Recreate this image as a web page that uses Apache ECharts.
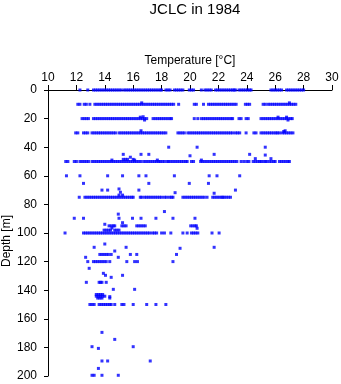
<!DOCTYPE html>
<html>
<head>
<meta charset="utf-8">
<script src="https://cdn.jsdelivr.net/npm/echarts@6/dist/echarts.min.js"></script>
<style>html,body{margin:0;padding:0;background:#fff}#c{width:341px;height:384px}</style>
</head>
<body>
<div id="c"></div>
<script>
// Temperature ticks and depth ticks
const tempTicks = [10,12,14,16,18,20,22,24,26,28,30];
const depthTicks = [0,20,40,60,80,100,120,140,160,180,200];

// Standard depth levels (m) with temperatures (°C) read at each level
const t0 = [12.25,12.8,13.2,13.35,13.5,13.65,13.8,13.95,14.1,14.25,14.4,14.55,14.7,14.85,15.0,15.15,
  15.35,15.5,15.65,15.8,15.95,16.1,16.25,16.4,16.55,16.7,16.85,17.0,17.15,17.3,17.45,17.6,17.75,17.9,18.0,
  18.3,18.45,18.6,18.9,19.05,19.2,19.35,19.5,19.95,20.1,20.25,20.8,21.05,21.2,21.35,21.5,
  21.8,21.95,22.1,22.25,22.4,22.55,22.7,22.85,23.0,23.1,23.2,23.45,23.6,23.75,23.9,24.05,24.2,24.3,
  25.7,25.85,26.0,26.15,26.3,26.45,26.8,26.95,27.1,27.25,27.4,27.55,27.7,27.85,28.0];
const t10 = [12.1,12.25,12.55,12.7,12.95,13.3,13.45,13.6,13.75,13.9,14.05,14.2,14.35,14.5,14.65,14.8,14.95,
  15.1,15.25,15.4,15.55,15.7,15.85,16.0,16.15,16.3,16.45,16.6,16.75,16.9,17.05,17.2,17.35,17.5,17.65,17.8,
  17.95,18.1,18.25,18.4,18.55,18.7,18.85,19.2,20.3,20.45,20.95,21.3,21.45,21.6,21.75,21.9,22.05,22.2,22.35,
  22.5,22.65,22.8,22.95,23.1,23.25,23.9,24.05,24.2,25.15,25.3,25.5,25.65,25.8,25.95,26.1,26.25,26.4,26.55,
  26.7,26.85,27.0,27.15,27.3,27.45];
const t20 = [12.4,12.55,12.7,12.85,13.2,13.35,13.5,13.65,13.8,13.95,14.1,14.25,14.4,14.55,14.7,14.85,15.0,
  15.15,15.3,15.45,15.6,15.75,15.9,16.05,16.2,16.35,16.5,16.65,16.8,16.95,17.4,17.55,17.7,17.85,18.0,18.15,
  18.3,18.45,18.6,18.7,20.3,20.55,20.8,20.95,21.1,21.25,21.4,21.55,21.7,21.85,22.0,22.15,22.3,22.45,22.6,
  22.75,22.9,23.0,23.45,23.6,23.95,24.1,25.0,25.15,25.3,25.45,25.6,25.75,25.9,26.05,26.2,26.35,26.5,26.65,
  26.8,26.95,27.1,27.2];
const t30 = [11.95,12.1,12.5,12.65,12.8,13.1,13.25,13.4,13.55,13.7,13.85,14.0,14.15,14.3,14.45,14.6,14.75,
  15.0,15.15,15.3,15.45,15.6,15.75,15.9,16.05,16.2,16.35,16.5,16.65,16.8,16.95,17.1,17.25,17.4,17.55,17.7,
  17.85,18.0,18.15,18.3,19.15,19.3,19.45,19.6,19.85,20.0,20.15,20.3,20.45,20.6,20.75,20.9,21.05,21.2,21.35,
  21.5,21.65,21.8,21.95,22.1,22.25,22.4,22.55,22.7,22.85,23.0,23.2,23.35,23.5,23.95,24.5,24.65,25.0,25.15,
  25.3,25.45,25.6,25.75,25.9,26.05,26.15,26.3,26.5,26.65,26.8,26.95,27.1,27.25];
const t50 = [11.25,11.4,11.85,12.0,12.25,12.4,12.55,12.7,12.85,13.1,13.25,13.4,13.55,13.7,13.85,14.0,14.15,
  14.3,14.45,14.6,14.75,14.9,15.05,15.2,15.35,15.5,15.65,15.8,15.95,16.1,16.25,16.4,16.55,16.75,16.9,17.05,
  17.2,17.35,17.5,17.65,17.8,17.9,18.05,18.2,18.4,18.5,18.65,18.8,18.95,19.1,19.25,19.4,19.55,19.7,19.8,
  20.1,20.25,20.75,20.9,21.05,21.2,21.35,21.5,21.65,21.8,21.95,22.1,22.25,22.4,22.55,22.7,22.85,23.0,
  23.15,23.3,23.6,23.8,24.0,24.15,24.45,24.6,24.75,24.9,25.0,25.15,25.3,25.4,25.6,25.75,25.9,26.0,
  26.3,26.45,26.6,26.75,26.9,27.0];
const t75 = [12.2,12.6,12.75,12.9,13.05,13.2,13.35,13.5,13.65,13.8,13.95,14.1,14.25,14.4,14.55,14.7,14.85,
  15.0,15.15,15.3,15.45,15.6,15.75,15.9,16.0,16.5,16.6,16.8,16.95,17.1,17.25,17.4,17.55,17.7,17.85,18.0,
  18.2,18.35,18.55,18.7,18.8,19.5,19.65,19.8,19.95,20.1,20.25,20.4,20.55,20.7,20.85,21.0,21.2,
  21.6,21.75,21.9,22.05,22.2,22.3,22.4,22.55,22.7,22.85];
const t100 = [11.2,12.5,12.65,12.8,12.95,13.1,13.25,13.4,13.55,13.7,13.85,14.0,14.15,14.3,14.45,14.6,14.75,
  14.9,15.05,15.2,15.35,15.5,15.65,15.8,15.95,16.1,16.25,16.4,16.55,16.7,16.85,17.0,17.15,17.35,17.5,17.65,
  18.0,18.2,18.65,19.5,19.8,20.1,20.25,20.4,20.55,21.55,22.05];
const t150 = [12.95,13.1,13.25,13.6,13.75,13.9,14.05,14.2,14.35,14.45,14.7,15.2,15.35,16.0,16.95,17.6,18.3];

// Other observations as [temperature, depth]
const upperObs = [[16.6,9],[27.0,9],[16.5,19],[16.7,18.7],[16.8,21],[26.2,19],[26.8,19],[26.9,21],
  [16.55,28.5],[26.7,28.5],[26.6,29],[18.5,40],[20.5,40],[25.3,40],
  [15.3,45],[15.8,47],[16.55,45],[17.1,45],[20.0,46],[21.7,45],[24.2,45],[25.3,45.5],
  [14.5,49],[15.3,48.5],[15.45,48.5],[15.6,48.5],[16.0,48.5],[16.1,49],[17.7,49],[20.8,49],[24.6,48],[25.7,48]];
const midObs = [[11.3,60],[12.25,60],[14.2,60],[15.25,60],[16.4,60],[16.9,60],[18.9,60],[21.35,60],[21.9,60],[23.5,60],
  [12.5,65.3],[17.1,65.3],[19.95,65.3],[21.3,65.3],
  [13.8,70],[14.2,70],[15.0,69.2],[15.1,71.5],[16.4,70],[18.95,71.8],[23.2,70],[21.7,72.2],
  [15.0,73.5],[15.25,73.5],[18.2,85],[14.95,86.8],
  [11.85,89.7],[12.5,89.7],[15.0,89.7],[15.95,89.7],[16.55,89.7],[17.6,89.7],[18.8,89.7],[20.35,89.7],
  [14.0,93.9],[15.25,92.8],
  [14.3,95],[14.45,95],[14.6,95],[14.7,95],[15.2,95],[15.35,95],[15.5,95],[16.25,95],[16.4,95],[16.55,95],
  [16.7,95],[16.85,95],[20.05,95],[20.2,95],[20.35,95],[20.45,95],[20.5,96.7],[14.5,96.5],
  [13.95,98],[14.1,98],[14.25,98],[14.4,98],[14.7,98],[14.85,98],[15.0,98]];
const lowerObs = [[14.0,107.7],[19.3,110.7],[13.25,110],[15.5,110],[21.7,110],[14.7,112.6],
  [13.65,115],[13.8,115],[13.95,115],[14.1,115],[14.25,115],[14.45,115],[15.8,115],[16.25,115],[19.05,115],
  [12.65,117],[14.95,117],
  [12.8,120],[13.2,120],[13.35,120],[13.5,120],[13.65,120],[13.8,120],[13.95,120],[14.1,120],[14.35,120],
  [15.55,120],[16.1,120],[16.3,120],[18.8,120],
  [12.9,124.7],[13.9,128.2],[14.05,129.6],[15.25,129.6],[14.45,131],
  [12.7,134.5],[13.6,134.5],[13.7,134.5],[13.8,134.5],[14.1,134.5],[14.6,139.4],[16.1,139.4],
  [13.4,143],[13.55,143],[13.7,143],[13.85,143],
  [13.4,144.2],[13.55,144.2],[13.7,144.2],[13.85,144.2],[14.0,144.2],[14.35,144.5],
  [13.5,145.5],[13.65,145.5],[13.8,145.5],[14.35,145.5]];
const deepObs = [[13.8,169.5],[14.7,174.4],[13.1,179.5],[16.0,179.5],[13.55,180.7],
  [13.8,189.5],[14.2,189.5],[17.2,189.5],[13.55,194.7],
  [13.1,199.5],[13.25,199.5],[13.8,199.5],[14.95,199.5]];

const levels = [[0,t0],[10,t10],[20,t20],[30,t30],[50,t50],[75,t75],[100,t100],[150,t150]];
const points = [];
levels.forEach(([d, ts]) => ts.forEach(t => points.push([t, d])));
[upperObs, midObs, lowerObs, deepObs].forEach(a => a.forEach(p => points.push(p)));

const font = 'Liberation Sans, Arial, Helvetica, sans-serif';
const chart = echarts.init(document.getElementById('c'), null, {renderer: 'canvas'});
chart.setOption({
  animation: false,
  backgroundColor: '#ffffff',
  title: {
    text: 'JCLC in 1984', left: 190, top: -3, textAlign: 'center',
    textStyle: {fontFamily: font, fontSize: 15, fontWeight: 'normal', color: '#000'}
  },
  grid: {left: 48, right: 9, top: 90, bottom: 8, containLabel: false, outerBoundsMode: 'none'},
  xAxis: {
    type: 'value', position: 'top', min: tempTicks[0], max: tempTicks[tempTicks.length-1], interval: 2,
    name: 'Temperature [°C]', nameLocation: 'middle', nameGap: 22,
    nameTextStyle: {fontFamily: font, fontSize: 12, color: '#000'},
    axisLine: {show: true, lineStyle: {color: '#000', width: 1}},
    axisTick: {show: true, inside: false, length: 5, lineStyle: {color: '#000'}},
    axisLabel: {fontFamily: font, fontSize: 12, color: '#000', margin: 6},
    splitLine: {show: false}
  },
  yAxis: {
    type: 'value', inverse: true, min: depthTicks[0], max: depthTicks[depthTicks.length-1], interval: 20,
    axisLine: {show: true, onZero: false, lineStyle: {color: '#000', width: 1}},
    axisTick: {show: true, inside: false, length: 4, lineStyle: {color: '#000'}},
    axisLabel: {fontFamily: font, fontSize: 12, color: '#000', margin: 11},
    splitLine: {show: false}
  },
  graphic: [{
    type: 'text', x: 7, y: 241, rotation: Math.PI/2,
    style: {text: 'Depth [m]', fill: '#000', font: '12px ' + font, textAlign: 'center', textVerticalAlign: 'middle'}
  }],
  series: [{
    type: 'scatter', data: points, symbol: 'rect', symbolSize: 3,
    itemStyle: {color: '#0000ff'}, clip: false
  }]
});
</script>
</body>
</html>
